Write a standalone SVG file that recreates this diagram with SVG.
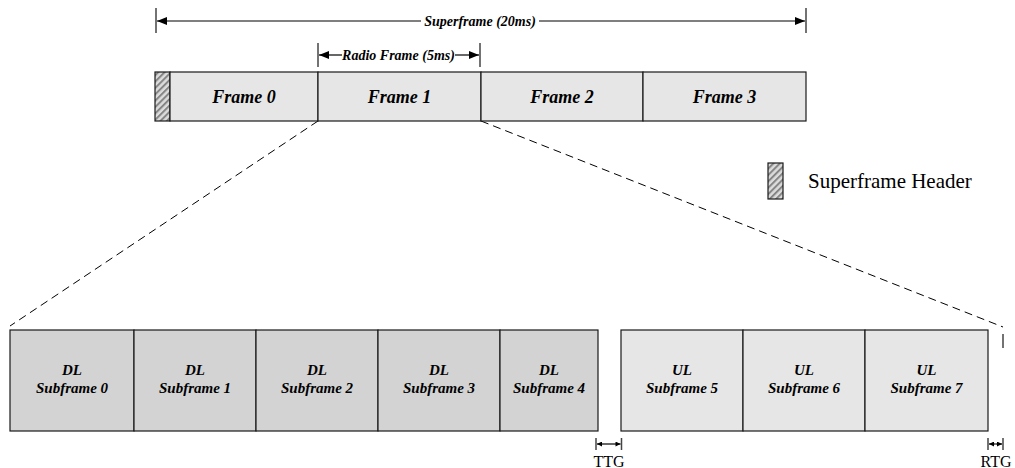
<svg xmlns="http://www.w3.org/2000/svg" width="1015" height="468" viewBox="0 0 1015 468">
<defs>
<pattern id="hatch" patternUnits="userSpaceOnUse" width="4.5" height="4.5" patternTransform="rotate(45)">
<rect width="4.5" height="4.5" fill="#dcdcdc"/>
<rect width="2" height="4.5" fill="#858585"/>
</pattern>
<marker id="ah" viewBox="0 0 10 8" refX="10" refY="4" markerWidth="10" markerHeight="8" markerUnits="userSpaceOnUse" orient="auto-start-reverse">
<path d="M0,0 L10,4 L0,8 Z" fill="#000"/>
</marker>
<marker id="ahs" viewBox="0 0 6 6" refX="6" refY="3" markerWidth="6" markerHeight="5" markerUnits="userSpaceOnUse" orient="auto-start-reverse">
<path d="M0,0 L6,3 L0,6 Z" fill="#000"/>
</marker>
</defs>
<style>
.box{stroke:#1a1a1a;stroke-width:1.2}
.top{fill:#e6e6e6}
.dl{fill:#d3d3d3}
.ul{fill:#e6e6e6}
.lbl{font-family:"Liberation Serif","Times New Roman",serif;font-weight:bold;font-style:italic;fill:#000;text-anchor:middle}
.reg{font-family:"Liberation Serif","Times New Roman",serif;fill:#000}
.tick{stroke:#444;stroke-width:1.5}
.dim{stroke:#000;stroke-width:1.2;fill:none}
.dash{stroke:#000;stroke-width:1;stroke-dasharray:8,5;fill:none}
</style>
<rect width="1015" height="468" fill="#fff"/>

<g id="connectors">
<path class="dash" d="M318,121 L10,326"/>
<path class="dash" d="M481,121 L1003,327"/>
<line class="tick" x1="1003" y1="334" x2="1003" y2="348"/>
</g>

<g id="superframe-dim">
<line class="tick" x1="156" y1="8" x2="156" y2="33"/>
<line class="tick" x1="806" y1="8" x2="806" y2="33"/>
<line class="dim" x1="421" y1="21" x2="157" y2="21" marker-end="url(#ah)"/>
<line class="dim" x1="539" y1="21" x2="805" y2="21" marker-end="url(#ah)"/>
<text class="lbl" x="480" y="25.5" font-size="14">Superframe (20ms)</text>
</g>

<g id="radioframe-dim">
<line class="tick" x1="318" y1="43" x2="318" y2="67"/>
<line class="tick" x1="480" y1="43" x2="480" y2="67"/>
<line class="dim" x1="342" y1="55" x2="319" y2="55" marker-end="url(#ah)"/>
<line class="dim" x1="455" y1="55" x2="479" y2="55" marker-end="url(#ah)"/>
<text class="lbl" x="398.5" y="60" font-size="14">Radio Frame (5ms)</text>
</g>

<g id="header">
<rect class="box" x="155" y="72" width="15" height="49" fill="url(#hatch)"/>
</g>
<g id="frame0">
<rect class="box top" x="170" y="72" width="148" height="49"/>
<text class="lbl" x="244" y="103" font-size="18">Frame 0</text>
</g>
<g id="frame1">
<rect class="box top" x="318" y="72" width="163" height="49"/>
<text class="lbl" x="399.5" y="103" font-size="18">Frame 1</text>
</g>
<g id="frame2">
<rect class="box top" x="481" y="72" width="162" height="49"/>
<text class="lbl" x="562" y="103" font-size="18">Frame 2</text>
</g>
<g id="frame3">
<rect class="box top" x="643" y="72" width="163" height="49"/>
<text class="lbl" x="724.5" y="103" font-size="18">Frame 3</text>
</g>

<g id="legend">
<rect class="box" x="768" y="163" width="15" height="36" fill="url(#hatch)"/>
<text class="reg" x="808" y="188" font-size="21">Superframe Header</text>
</g>

<g id="dl0">
<rect class="box dl" x="10" y="330" width="124" height="101"/>
<text class="lbl" x="72" y="375" font-size="15">DL</text>
<text class="lbl" x="72" y="393" font-size="15">Subframe 0</text>
</g>
<g id="dl1">
<rect class="box dl" x="134" y="330" width="122" height="101"/>
<text class="lbl" x="195" y="375" font-size="15">DL</text>
<text class="lbl" x="195" y="393" font-size="15">Subframe 1</text>
</g>
<g id="dl2">
<rect class="box dl" x="256" y="330" width="122" height="101"/>
<text class="lbl" x="317" y="375" font-size="15">DL</text>
<text class="lbl" x="317" y="393" font-size="15">Subframe 2</text>
</g>
<g id="dl3">
<rect class="box dl" x="378" y="330" width="122" height="101"/>
<text class="lbl" x="439" y="375" font-size="15">DL</text>
<text class="lbl" x="439" y="393" font-size="15">Subframe 3</text>
</g>
<g id="dl4">
<rect class="box dl" x="500" y="330" width="98" height="101"/>
<text class="lbl" x="549" y="375" font-size="15">DL</text>
<text class="lbl" x="549" y="393" font-size="15">Subframe 4</text>
</g>
<g id="ul5">
<rect class="box ul" x="621" y="330" width="122" height="101"/>
<text class="lbl" x="682" y="375" font-size="15">UL</text>
<text class="lbl" x="682" y="393" font-size="15">Subframe 5</text>
</g>
<g id="ul6">
<rect class="box ul" x="743" y="330" width="122" height="101"/>
<text class="lbl" x="804" y="375" font-size="15">UL</text>
<text class="lbl" x="804" y="393" font-size="15">Subframe 6</text>
</g>
<g id="ul7">
<rect class="box ul" x="865" y="330" width="123" height="101"/>
<text class="lbl" x="926.5" y="375" font-size="15">UL</text>
<text class="lbl" x="926.5" y="393" font-size="15">Subframe 7</text>
</g>

<g id="ttg">
<line class="tick" x1="596" y1="438" x2="596" y2="450"/>
<line class="tick" x1="621.5" y1="438" x2="621.5" y2="450"/>
<line class="dim" x1="608" y1="444" x2="597" y2="444" marker-end="url(#ahs)"/>
<line class="dim" x1="608" y1="444" x2="620.5" y2="444" marker-end="url(#ahs)"/>
<text class="reg" x="609" y="467" font-size="16" text-anchor="middle">TTG</text>
</g>
<g id="rtg">
<line class="tick" x1="988" y1="438" x2="988" y2="450"/>
<line class="tick" x1="1003" y1="438" x2="1003" y2="450"/>
<line class="dim" x1="995.5" y1="444" x2="989" y2="444" marker-end="url(#ahs)"/>
<line class="dim" x1="995.5" y1="444" x2="1002" y2="444" marker-end="url(#ahs)"/>
<text class="reg" x="996" y="467" font-size="16" text-anchor="middle">RTG</text>
</g>
</svg>
